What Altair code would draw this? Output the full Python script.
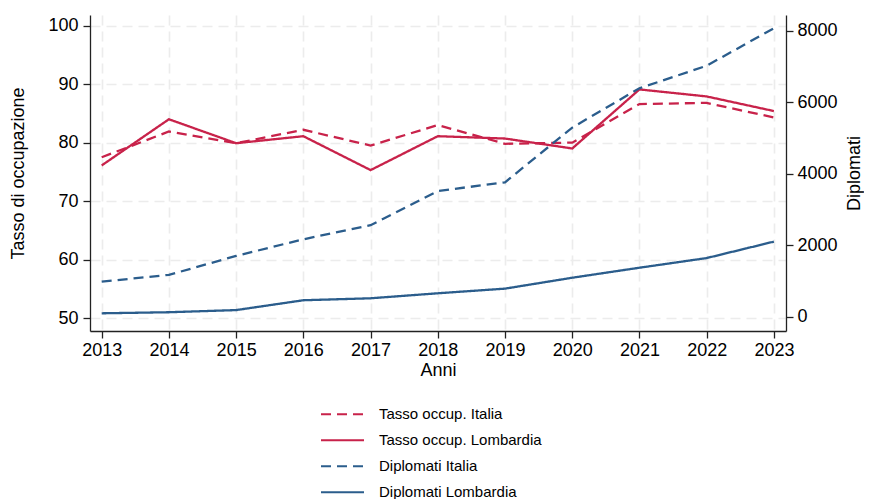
import altair as alt
import pandas as pd

anni = list(range(2013, 2024))
tasso_italia = [77.5, 81.9, 79.9, 82.2, 79.5, 83.0, 79.8, 80.0, 86.6, 86.8, 84.3]
tasso_lombardia = [76.1, 84.0, 79.9, 81.1, 75.3, 81.1, 80.7, 79.0, 89.1, 87.9, 85.4]
diplomati_italia = [980, 1170, 1700, 2165, 2560, 3515, 3760, 5290, 6390, 7020, 8070]
diplomati_lombardia = [95, 125, 185, 460, 515, 655, 785, 1090, 1370, 1640, 2100]

serie = ["Tasso occup. Italia", "Tasso occup. Lombardia", "Diplomati Italia", "Diplomati Lombardia"]
colori = ["#C8224A", "#C8224A", "#2B5D8C", "#2B5D8C"]
tratti = [[10, 6], [1, 0], [10, 6], [1, 0]]

df_tasso = pd.concat([
    pd.DataFrame({"Anno": anni, "Valore": tasso_italia, "Serie": serie[0]}),
    pd.DataFrame({"Anno": anni, "Valore": tasso_lombardia, "Serie": serie[1]}),
])
df_dipl = pd.concat([
    pd.DataFrame({"Anno": anni, "Valore": diplomati_italia, "Serie": serie[2]}),
    pd.DataFrame({"Anno": anni, "Valore": diplomati_lombardia, "Serie": serie[3]}),
])

FONT = "Liberation Sans"
legend = alt.Legend(
    orient="none", legendX=230, legendY=386.5, title=None, direction="vertical",
    symbolType="stroke", symbolSize=1849, symbolStrokeWidth=2,
    labelFont=FONT, labelFontSize=15, labelColor="black", labelOffset=14,
    clipHeight=25.5, rowPadding=0, padding=0, labelLimit=400,
)
color = alt.Color("Serie:N", scale=alt.Scale(domain=serie, range=colori), legend=legend)
dash = alt.StrokeDash("Serie:N", scale=alt.Scale(domain=serie, range=tratti), legend=legend)

xscale = alt.Scale(domain=[2012.826, 2023.18], nice=False, zero=False)
axis_common = dict(
    labelFont=FONT, labelFontSize=18, labelColor="black",
    titleFont=FONT, titleFontSize=18, titleColor="black", titleFontWeight="normal",
    domainColor="#222222", domainWidth=1.3, tickColor="#222222", tickWidth=1.3, tickSize=7,
    gridColor="#ececec", gridDash=[10, 6], gridWidth=1.6,
)
xaxis = alt.Axis(values=anni, format="d", title="Anni", grid=True,
                 labelPadding=3, titlePadding=2, **axis_common)

left = alt.Chart(df_tasso).mark_line(strokeWidth=2.3).encode(
    x=alt.X("Anno:Q", scale=xscale, axis=xaxis),
    y=alt.Y("Valore:Q", scale=alt.Scale(domain=[47.78, 101.83], nice=False, zero=False),
            axis=alt.Axis(values=[50, 60, 70, 80, 90, 100], title="Tasso di occupazione",
                          grid=True, labelPadding=5, titlePadding=20, **axis_common)),
    color=color,
    strokeDash=dash,
)

right = alt.Chart(df_dipl).mark_line(strokeWidth=2.3).encode(
    x=alt.X("Anno:Q", scale=xscale, axis=xaxis),
    y=alt.Y("Valore:Q", scale=alt.Scale(domain=[-400, 8439], nice=False, zero=False),
            axis=alt.Axis(orient="right", values=[0, 2000, 4000, 6000, 8000], format="d",
                          title="Diplomati", grid=False, titleAngle=270, titleBaseline="top",
                          labelPadding=4, titlePadding=8, **axis_common)),
    color=color,
    strokeDash=dash,
)

chart = alt.layer(left, right).resolve_scale(y="independent").properties(
    width=696, height=316,
    autosize=alt.AutoSizeParams(type="none"),
    padding={"left": 82, "top": 7, "right": 78, "bottom": 168},
    background="white",
).configure_view(stroke=None)

chart.save("out.html", embed_options={"renderer": "svg", "actions": False})
